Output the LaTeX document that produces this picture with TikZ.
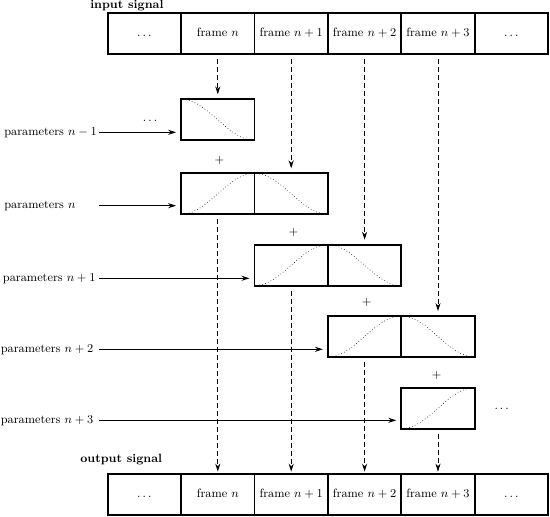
\documentclass[tikz,border=0pt]{standalone}
\usetikzlibrary{arrows.meta,calc}
\begin{document}
\begin{tikzpicture}[x=0.75pt,y=-0.75pt, font=\fontsize{9}{11}\selectfont,
  cell/.style={draw, line width=1.25pt, minimum width=55.05pt, minimum height=30.75pt,
    inner sep=0pt, outer sep=0pt, anchor=center},
  tip/.style={-{Stealth[length=6pt,width=3.8pt,inset=2pt]}},
  arr/.style={tip, line width=0.75pt, shorten >=3.75pt},
  darr/.style={tip, line width=0.6pt, dash pattern=on 3.6pt off 2.4pt,
    shorten <=3.75pt, shorten >=3.75pt},
  curve/.style={line width=0.45pt, dash pattern=on 0.45pt off 1.8pt},
  lbl/.style={anchor=west, inner sep=0pt},
  sym/.style={inner sep=0pt}]
\useasboundingbox (0,0) rectangle (550,517);

% input signal
\node[lbl] (tin) at (90,5.5) {\bfseries input signal};
\node[cell] (in0) at (144.4,33.5) {\strut$\dots$};
\node[cell] (in1) at (217.8,33.5) {\strut frame $n$};
\node[cell] (in2) at (291.2,33.5) {\strut frame $n+1$};
\node[cell] (in3) at (364.6,33.5) {\strut frame $n+2$};
\node[cell] (in4) at (438.0,33.5) {\strut frame $n+3$};
\node[cell] (in5) at (511.4,33.5) {\strut$\dots$};

% windows
\node[cell] (w0)  at (217.8,119.8) {};
\node[cell] (w1a) at (217.8,193.8) {};
\node[cell] (w1b) at (291.2,193.8) {};
\node[cell] (w2a) at (291.2,265.2) {};
\node[cell] (w2b) at (364.6,265.2) {};
\node[cell] (w3a) at (364.6,336.5) {};
\node[cell] (w3b) at (438.0,336.5) {};
\node[cell] (w4)  at (438.0,408.2) {};

\foreach \n in {w1a,w2a,w3a,w4}
  \draw[curve, shift={(\n.south west)}] plot[domain=2:71.4, samples=40]
    (\x, {-41*(1-cos(180*\x/73.4))/2});
\foreach \n in {w0,w1b,w2b,w3b}
  \draw[curve, shift={(\n.south west)}] plot[domain=2:71.4, samples=40]
    (\x, {-41*(1+cos(180*\x/73.4))/2});

% plus signs and dots
\node[sym] (pl1) at (219.3,160.0) {$+$};
\node[sym] (pl2) at (293.3,232.7) {$+$};
\node[sym] (pl3) at (366.7,302.7) {$+$};
\node[sym] (pl4) at (436.7,375.0) {$+$};
\node[sym] (dl) at (150.0,121.0) {$\dots$};
\node[sym] (dr) at (501.7,409.3) {$\dots$};

% parameters
\node[lbl] (p0) at (4.0,132.3) {parameters $n-1$};
\node[lbl] (p1) at (4.0,205.7) {parameters $n$};
\node[lbl] (p2) at (2.7,278.3) {parameters $n+1$};
\node[lbl] (p3) at (0.5,349.3) {parameters $n+2$};
\node[lbl] (p4) at (0.5,420.3) {parameters $n+3$};
\coordinate (s0) at (99.3,132.3);
\coordinate (s1) at (99.3,205.7);
\coordinate (s2) at (99.3,278.3);
\coordinate (s3) at (99.3,349.3);
\coordinate (s4) at (99.3,420.3);
\draw[arr] (s0) -- (s0 -| w0.west);
\draw[arr] (s1) -- (s1 -| w1a.west);
\draw[arr] (s2) -- (s2 -| w2a.west);
\draw[arr] (s3) -- (s3 -| w3a.west);
\draw[arr] (s4) -- (s4 -| w4.west);

% output signal
\node[lbl] (tout) at (80,460) {\bfseries output signal};
\node[cell] (out0) at (144.4,494.5) {\strut$\dots$};
\node[cell] (out1) at (217.8,494.5) {\strut frame $n$};
\node[cell] (out2) at (291.2,494.5) {\strut frame $n+1$};
\node[cell] (out3) at (364.6,494.5) {\strut frame $n+2$};
\node[cell] (out4) at (438.0,494.5) {\strut frame $n+3$};
\node[cell] (out5) at (511.4,494.5) {\strut$\dots$};

% dashed connectors
\draw[darr] (in1) -- (w0);
\draw[darr] (in2) -- (w1b);
\draw[darr] (in3) -- (w2b);
\draw[darr] (in4) -- (w3b);
\draw[darr, shorten >=1.8pt] (w1a) -- (out1);
\draw[darr, shorten >=1.8pt] (w2a) -- (out2);
\draw[darr, shorten >=1.8pt] (w3a) -- (out3);
\draw[darr, shorten >=1.8pt] (w4) -- (out4);
\end{tikzpicture}
\end{document}
